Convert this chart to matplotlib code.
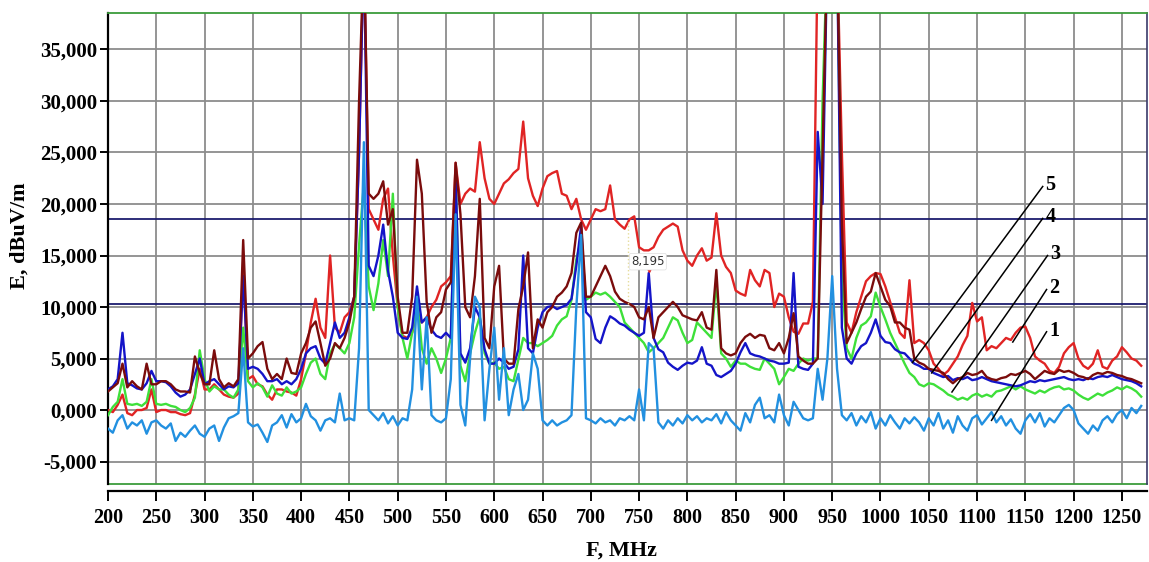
import matplotlib
matplotlib.use("Agg")
import matplotlib.pyplot as plt
from matplotlib.ticker import FuncFormatter, MultipleLocator

# sample grid, MHz (5 MHz step)
freq = list(range(200, 1271, 5))

# 1 - light blue
s1 = [-1.8, -2.2, -1.0, -0.5, -1.8, -1.2, -1.5, -1.0, -2.3, -1.2,
      -1.0, -1.5, -1.8, -1.3, -3.0, -2.2, -2.6, -2.0, -1.5, -2.3,
      -2.6, -1.8, -1.5, -3.0, -1.7, -0.8, -0.6, -0.3, 6.0, -1.2,
      -1.6, -1.4, -2.2, -3.1, -1.5, -1.2, -0.5, -1.7, -0.4, -1.2,
      -0.8, 0.6, -0.6, -1.0, -2.0, -1.0, -0.8, -1.2, 1.6, -1.0,
      -0.8, -1.0, 6.0, 26.0, 0.0, -0.5, -1.0, -0.3, -1.3, -0.6,
      -1.5, -0.8, -1.0, 2.0, 11.0, 2.0, 9.0, -0.5, -1.0, -1.2,
      -0.8, 3.0, 19.0, 0.5, -1.5, 5.0, 11.0, 10.0, -1.0, 4.0,
      8.0, 1.0, 6.0, -0.5, 2.0, 3.5, 0.0, 1.0, 5.5, 4.0,
      -1.0, -1.5, -1.0, -1.5, -1.2, -1.0, -0.5, 10.0, 17.0, -0.8,
      -1.0, -1.3, -0.8, -1.2, -1.0, -1.5, -0.8, -1.0, -0.6, -1.0,
      2.0, -1.0, 6.5, 6.0, -1.2, -1.8, -1.0, -1.5, -0.8, -1.3,
      -0.5, -1.0, -0.6, -1.2, -0.8, -1.0, -0.4, -1.3, -0.2, -1.0,
      -1.5, -2.0, -0.3, -1.2, 0.5, 1.2, -0.8, -0.5, -1.2, 1.5,
      -0.5, -1.5, 0.8, 0.0, -0.8, -1.0, -0.8, 4.0, 1.0, 5.0,
      13.0, 4.0, -0.5, -1.0, -0.3, -1.5, -0.6, -1.2, -0.2, -1.8,
      -0.8, -1.5, -0.5, -1.2, -1.8, -0.8, -1.3, -0.7, -1.2, -2.0,
      -0.8, -1.5, -0.3, -1.8, -1.0, -2.2, -0.6, -1.5, -2.0, -0.8,
      -0.5, -1.4, -0.8, -0.2, -1.2, -0.6, -1.5, -0.9, -1.8, -2.3,
      -1.0, -0.4, -1.2, -0.3, -1.6, -0.8, -1.2, -0.5, 0.2, 0.5,
      0.0, -1.3, -1.8, -2.3, -1.5, -2.0, -1.0, -0.6, -1.2, -0.4,
      0.0, -0.8, 0.2, -0.3, 0.4]

# 2 - green
s2 = [-0.5, 0.3, 0.8, 3.0, 0.6, 0.5, 0.6, 0.4, 0.8, 3.0,
      0.6, 0.5, 0.6, 0.4, 0.3, 0.0, -0.2, 0.2, 1.2, 5.8,
      3.0, 1.8, 2.3, 2.0, 2.0, 1.5, 1.2, 2.0, 8.0, 2.8,
      2.2, 2.6, 2.2, 1.3, 2.4, 1.6, 1.4, 2.2, 1.6, 1.8,
      2.2, 3.5, 4.6, 5.0, 3.5, 3.0, 5.5, 6.4, 6.0, 5.5,
      6.5, 9.0, 16.0, 22.0, 12.0, 9.7, 12.3, 16.5, 13.0, 21.0,
      10.0, 7.0, 5.0, 7.5, 11.0, 6.0, 4.5, 6.0, 5.0, 3.6,
      5.0, 7.0, 23.0, 4.3, 2.8, 5.5, 7.5, 9.1, 5.5, 4.5,
      4.6, 4.0, 4.2, 3.0, 2.8, 4.9, 7.0, 6.5, 6.5, 6.2,
      6.5, 6.8, 7.2, 8.2, 8.8, 9.1, 10.7, 14.6, 16.6, 10.7,
      11.0, 11.4, 11.2, 11.4, 11.0, 10.5, 10.0, 8.5, 8.0, 7.5,
      7.0, 6.5, 5.6, 6.0, 6.5, 7.0, 8.0, 9.0, 8.7, 7.5,
      6.5, 6.8, 8.5, 8.0, 7.5, 7.0, 12.5, 5.5, 5.0, 4.2,
      4.8, 4.5, 4.5, 4.2, 4.0, 3.9, 5.0, 4.5, 4.0, 2.5,
      3.2, 4.0, 3.8, 4.5, 5.0, 4.8, 5.0, 5.0, 30.0, 45.0,
      45.0, 45.0, 13.0, 6.0, 5.0, 7.0, 8.2, 8.5, 9.1, 11.4,
      10.0, 8.8, 7.5, 6.5, 5.5, 4.5, 3.6, 3.2, 2.5, 2.3,
      2.6, 2.5, 2.2, 1.9, 1.5, 1.3, 1.0, 1.2, 1.0, 1.4,
      1.6, 1.3, 1.5, 1.3, 1.8, 1.9, 2.1, 2.3, 2.0, 2.3,
      2.0, 1.8, 1.6, 1.9, 1.7, 2.0, 2.2, 2.3, 2.0, 2.1,
      1.9, 1.5, 1.2, 1.0, 1.3, 1.6, 1.4, 1.7, 1.9, 2.2,
      2.0, 2.3, 2.1, 1.8, 1.3]

# 3 - blue
s3 = [2.0, 2.3, 3.0, 7.5, 2.6, 2.4, 2.1, 2.0, 2.6, 3.8,
      2.8, 2.8, 2.7, 2.3, 1.7, 1.3, 1.5, 2.0, 3.5, 5.0,
      2.5, 2.8, 3.0, 2.5, 2.0, 2.3, 2.2, 2.6, 13.0, 4.0,
      4.2, 4.0, 3.5, 2.8, 2.8, 3.0, 2.5, 2.8, 2.5, 3.0,
      4.0, 5.5, 6.0, 6.2, 5.0, 4.5, 6.5, 8.5, 7.0, 7.5,
      9.0, 11.0, 25.0, 45.0, 14.0, 13.0, 15.0, 18.0, 13.5, 11.0,
      7.5, 7.0, 6.9, 8.0, 12.0, 8.5, 9.0, 7.8, 7.2, 7.0,
      7.5, 7.0, 23.0, 5.5, 4.6, 6.0, 10.0, 9.0, 5.9, 4.5,
      4.5, 5.0, 4.6, 4.0, 4.2, 5.9, 15.0, 6.0, 5.5, 8.0,
      9.5, 10.0, 10.1, 9.8, 10.0, 10.2, 10.8, 14.0, 17.9, 9.5,
      9.0, 6.9, 6.5, 8.0, 9.1, 8.8, 8.4, 8.2, 7.8, 7.5,
      7.2, 7.5, 13.3, 7.0, 5.9, 5.6, 4.6, 4.2, 3.9, 4.3,
      4.6, 4.5, 4.8, 6.1, 4.5, 4.3, 3.4, 3.2, 3.5, 3.8,
      4.5, 5.6, 6.5, 5.5, 5.3, 5.2, 5.0, 4.8, 4.7, 4.5,
      4.5, 4.6, 13.3, 4.2, 4.0, 3.9, 4.5, 27.0, 20.0, 45.0,
      45.0, 45.0, 8.0, 5.0, 4.5, 5.5, 6.2, 6.5, 7.5, 8.8,
      7.2, 6.6, 6.5, 5.9, 5.6, 5.5, 5.0, 4.5, 4.3, 4.0,
      4.0, 3.6, 3.4, 3.2, 3.3, 2.9, 3.1, 3.0, 3.2, 2.9,
      3.0, 3.2, 3.0, 2.8, 2.7, 2.6, 2.5, 2.4, 2.3, 2.4,
      2.6, 2.8, 2.7, 2.9, 2.8, 2.9, 3.0, 3.1, 3.2, 3.0,
      2.9, 3.0, 2.9, 3.1, 3.0, 3.2, 3.3, 3.2, 3.4, 3.2,
      3.0, 2.9, 2.8, 2.6, 2.3]

# 4 - dark red
s4 = [1.8, 2.2, 2.6, 4.5, 2.2, 2.8, 2.3, 2.0, 4.5, 2.5,
      2.5, 2.8, 2.8, 2.5, 2.0, 1.8, 1.8, 1.7, 5.2, 3.6,
      2.5, 2.5, 5.8, 3.0, 2.2, 2.6, 2.3, 3.0, 16.5, 5.0,
      5.5, 6.2, 6.6, 4.0, 3.0, 3.5, 3.0, 5.0, 3.6, 3.5,
      5.5, 6.5, 8.0, 8.6, 6.5, 4.3, 5.0, 6.5, 6.0, 7.0,
      8.5, 11.0, 30.0, 45.0, 21.0, 20.5, 21.0, 22.2, 18.0, 19.5,
      11.0, 7.5, 7.5, 11.0, 24.3, 21.0, 10.5, 7.5, 9.0, 9.5,
      11.7, 12.4, 24.0, 19.0, 10.0, 9.0, 13.0, 20.5, 7.0, 6.0,
      12.0, 14.0, 5.0, 4.5, 4.5, 9.8, 12.0, 15.3, 6.0, 8.8,
      8.0, 9.5, 10.0, 11.0, 11.4, 12.0, 13.3, 17.2, 18.2, 11.0,
      11.0, 12.0, 13.0, 14.0, 13.0, 11.5, 10.8, 10.5, 10.3, 10.0,
      9.0, 8.8, 10.0, 7.0, 9.0, 9.5, 10.0, 10.5, 10.0, 9.2,
      9.0, 8.8, 8.7, 9.5, 8.0, 7.8, 13.6, 6.0, 5.5, 5.3,
      5.5, 6.5, 7.1, 7.4, 7.0, 7.3, 7.2, 6.0, 5.8, 6.5,
      5.5, 7.0, 9.4, 5.2, 4.8, 4.5, 4.5, 5.0, 25.0, 45.0,
      45.0, 45.0, 18.0, 6.5, 7.5, 8.5, 9.8, 11.0, 11.5, 13.3,
      12.0, 10.7, 10.1, 8.5, 8.5, 8.0, 7.8, 5.0, 4.6, 4.4,
      4.0, 3.9, 3.8, 3.6, 3.0, 2.6, 3.0, 3.2, 3.6, 3.4,
      3.5, 3.8, 3.2, 3.0, 2.9, 3.1, 3.2, 3.5, 3.4, 3.6,
      3.8, 3.5, 3.0, 3.4, 3.8, 3.6, 3.5, 3.9, 3.7, 3.8,
      3.6, 3.3, 3.2, 3.0, 3.4, 3.6, 3.5, 3.7, 3.6, 3.4,
      3.3, 3.1, 3.0, 2.8, 2.6]

# 5 - red
s5 = [0.0, -0.2, 0.5, 1.5, -0.3, -0.5, 0.0, 0.0, 0.2, 2.0,
      -0.2, 0.0, 0.0, -0.2, -0.2, -0.4, -0.5, -0.3, 1.5, 4.0,
      2.0, 2.0, 2.5, 2.0, 1.5, 1.3, 1.2, 1.6, 14.0, 3.0,
      3.3, 2.5, 2.3, 1.5, 1.0, 2.0, 2.0, 1.8, 1.7, 1.4,
      3.0, 5.5, 8.5, 10.8, 8.0, 7.0, 15.0, 8.0, 7.5, 9.0,
      9.5, 11.0, 25.0, 45.0, 19.5, 18.5, 17.5, 20.5, 21.5, 15.0,
      10.0, 7.2, 7.0, 7.5, 9.5, 8.5, 9.0, 10.0, 10.7, 12.0,
      12.4, 13.0, 24.0, 20.0, 21.0, 21.5, 21.2, 26.0, 22.5, 20.5,
      20.0, 21.0, 22.0, 22.4, 23.0, 23.4, 28.0, 22.5, 20.8, 19.8,
      21.5, 22.7, 23.0, 23.2, 21.0, 20.8, 19.5, 20.5, 18.5, 17.5,
      18.5, 19.5, 19.3, 19.5, 21.8, 18.5, 18.0, 17.6, 18.5, 18.8,
      15.8, 15.5, 15.5, 15.8, 16.8, 17.5, 17.8, 18.1, 17.8, 15.5,
      14.5, 14.0, 15.0, 15.7, 14.5, 14.8, 19.1, 15.0, 13.9, 13.3,
      11.6, 11.3, 11.1, 13.6, 12.6, 12.0, 13.6, 13.3, 10.0, 11.3,
      11.0, 9.0, 7.6, 7.4, 8.4, 8.4, 10.5, 45.0, 45.0, 45.0,
      45.0, 45.0, 25.0, 8.5, 7.5, 9.5, 11.0, 12.5, 13.0, 13.3,
      13.2, 12.0, 10.5, 9.0, 7.5, 7.0, 12.6, 6.5, 6.8, 6.5,
      5.8, 4.5, 4.0, 3.4, 3.8, 4.5, 5.2, 6.3, 7.2, 10.4,
      8.6, 9.0, 5.8, 6.2, 6.0, 6.5, 7.0, 6.8, 7.5, 8.0,
      8.1, 7.0, 5.2, 4.8, 4.5, 3.8, 3.6, 4.2, 5.5, 6.1,
      6.5, 5.0, 4.3, 4.0, 4.5, 5.8, 4.2, 4.0, 4.8, 5.2,
      6.1, 5.6, 5.0, 4.8, 4.3]

levels = [18.5, 10.3]          # horizontal reference lines
marker_freq = 760
marker_text = "8,195"

plt.rcParams['font.family'] = ['Liberation Serif', 'DejaVu Serif']
plt.rcParams['font.weight'] = 'bold'

W, H = 1149, 562
fig = plt.figure(figsize=(W / 100, H / 100), dpi=100)
ax = fig.add_axes([108 / W, (H - 484) / H, (1147 - 108) / W, (484 - 13) / H])
ax.set_xlim(200, 1276)
ax.set_ylim(-7.18, 38.54)

ax.xaxis.set_major_locator(MultipleLocator(50))
ax.set_yticks(range(-5, 36, 5))
ax.yaxis.set_major_formatter(FuncFormatter(lambda v, _: f"{v:.3f}".replace('.', ',')))
ax.grid(True, color='#8c8c8c', lw=1.3)
ax.set_axisbelow(True)

ax.spines['top'].set_color('#3c9c3c')
ax.spines['top'].set_linewidth(1.3)
ax.spines['right'].set_color('#3a3a6a')
ax.spines['right'].set_linewidth(1.2)
ax.spines['left'].set_linewidth(1.6)
ax.spines['bottom'].set_linewidth(1.6)
ax.spines['bottom'].set_position(('outward', 5))
ax.axhline(ax.get_ylim()[0], color='#3c9c3c', lw=1.3, clip_on=False, zorder=1)

ax.tick_params(axis='y', length=6, width=1.4, pad=2, labelsize=15)
ax.tick_params(axis='x', length=7, width=1.4, pad=5, labelsize=14.5)

for lv in levels:
    ax.axhline(lv, color='#1c1c6e', lw=1.3, zorder=2)

series = [(s5, '#e02424', 3), (s2, '#3ee03a', 4), (s3, '#1414c8', 5),
          (s4, '#7a0c0c', 6), (s1, '#2290e0', 7)]
for vals, col, z in series:
    ax.plot(freq, vals, color=col, lw=1.7, zorder=z)

# marker readout
i = freq.index(marker_freq)
ax.plot([738, 738], [10.3, 18.3], color='#e6dc9a', lw=1, ls=':', zorder=8)
ax.plot(marker_freq, s3[i] + 0.5, marker='v', color='#e02424', ms=6, zorder=9)
ax.text(marker_freq - 1, s3[i] + 1.1, marker_text, fontsize=8.5, fontweight='normal',
        family='DejaVu Sans', color='#333333', ha='center', va='center', zorder=10,
        bbox=dict(boxstyle='round,pad=0.15', fc='white', ec='#dddddd', lw=0.5))

# curve number callouts: label, text anchor, line end
callouts = [("5", (1168, 21.7), (1033, 4.6)),
            ("4", (1168, 18.6), (1053, 3.6)),
            ("3", (1173, 15.0), (1074, 1.75)),
            ("2", (1172, 11.7), (1137, 6.6)),
            ("1", (1172, 7.6), (1115, -1.0))]
for lab, (tx, ty), (ex, ey) in callouts:
    ax.plot([tx, ex], [ty, ey], color='black', lw=1.1, zorder=11)
    ax.text(tx + 3, ty + 0.1, lab, fontsize=14.5, ha='left', va='center', zorder=11)

fig.text(20 / W, 1 - 236 / H, "E, dBuV/m", rotation=90, ha='center', va='center',
         fontsize=16)
fig.text(621 / W, 1 - 551 / H, "F, MHz", ha='center', va='center', fontsize=16)

fig.savefig("out.png", dpi=100)
